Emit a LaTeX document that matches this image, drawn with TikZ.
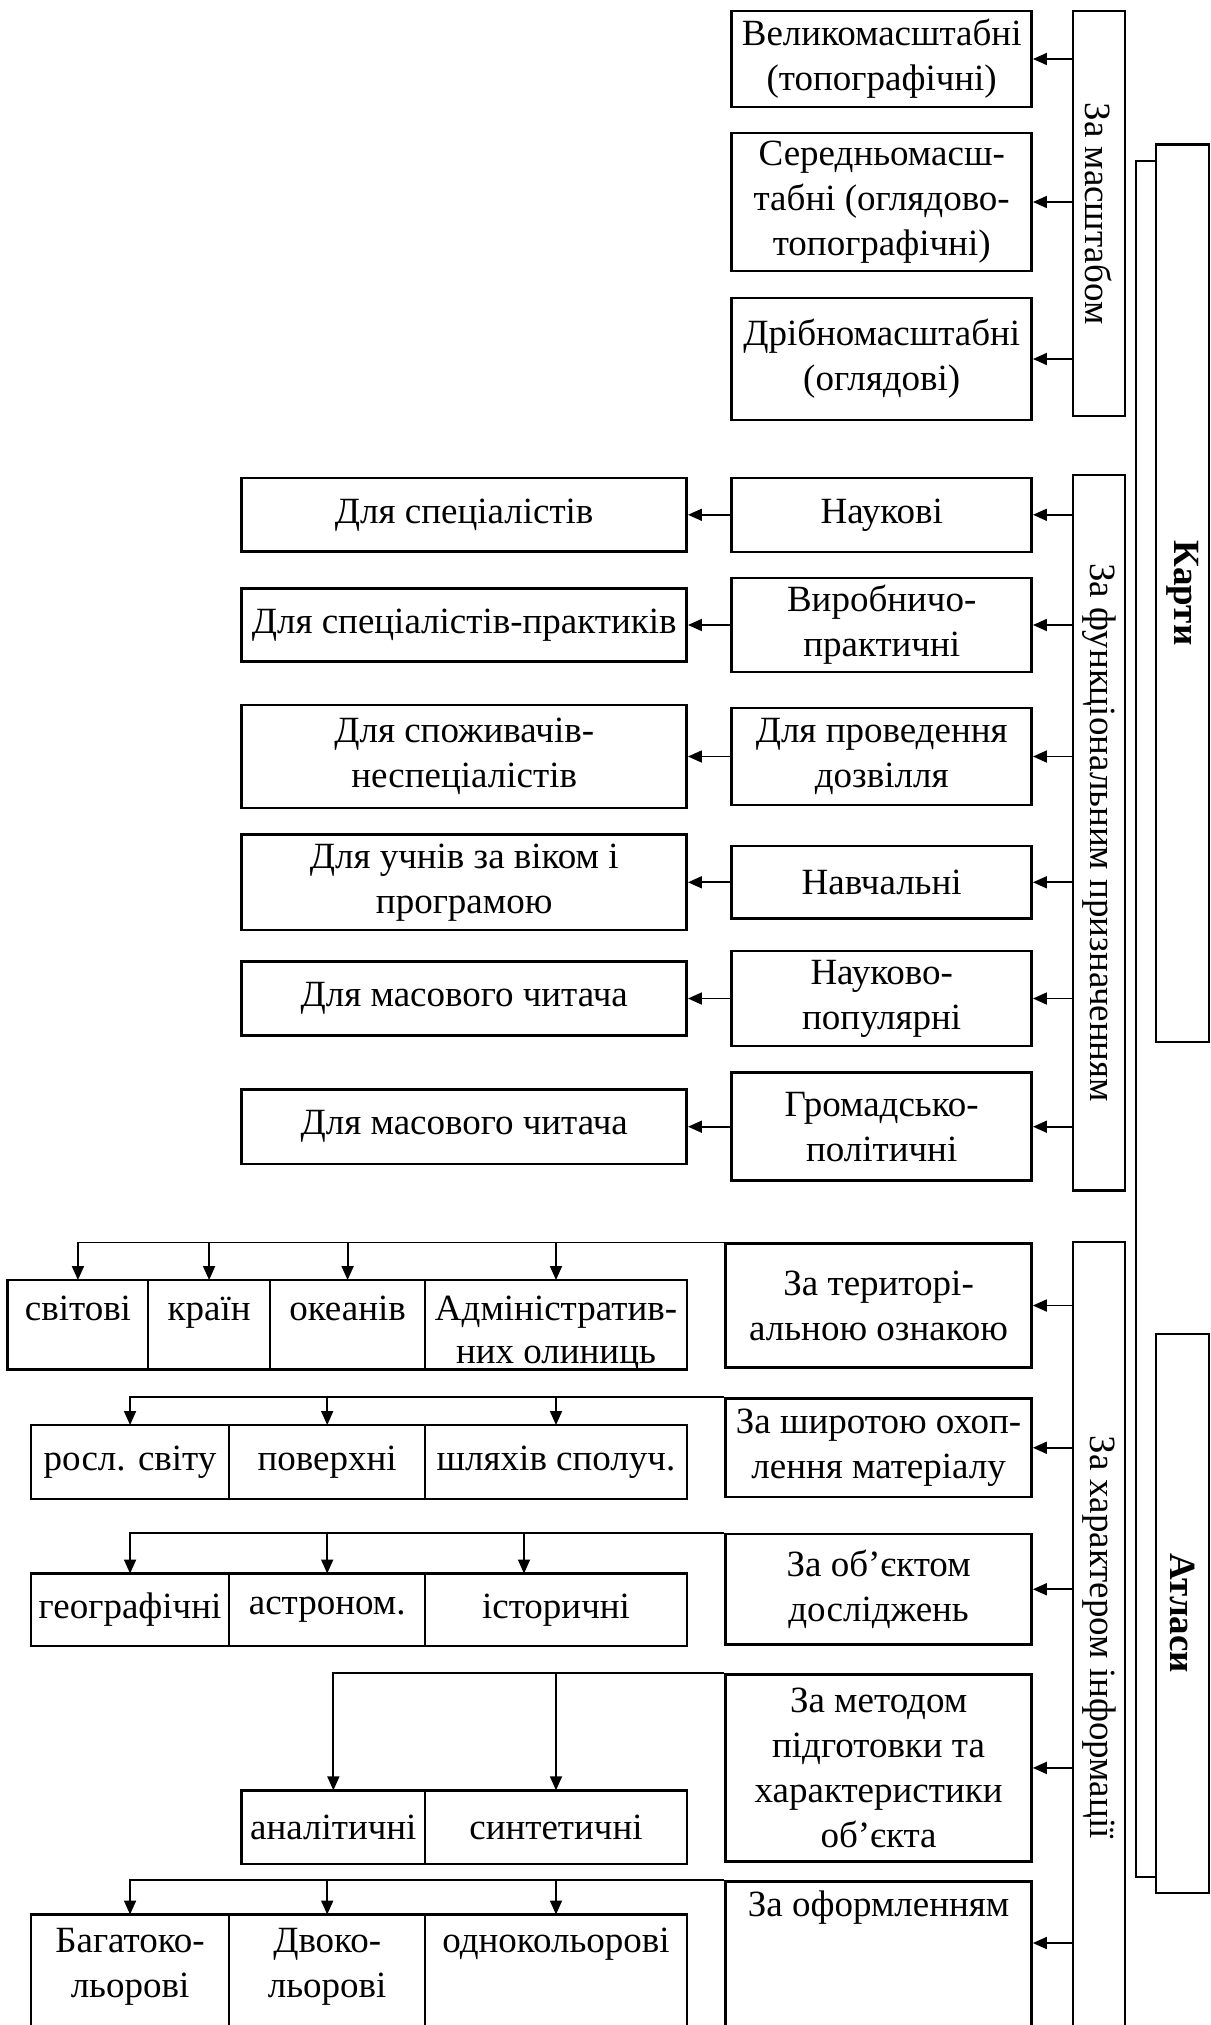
\documentclass[tikz,border=0pt]{standalone}
\usepackage{fontspec}
\setmainfont{Liberation Serif}
\usetikzlibrary{positioning,arrows.meta}
\begin{document}
\begin{tikzpicture}
[
x=1pt, y=-1pt,
every node/.style={font=\fontsize{37}{45}\selectfont},
kind/.style={draw=black, line width=2.5pt, align=center, minimum width=300pt, inner sep=2pt},
user/.style={draw=black, line width=2.5pt, align=center, minimum width=445pt, inner sep=2pt, node distance=417.5pt},
branch/.style={draw=black, line width=2.5pt, align=center, minimum width=306pt, inner sep=2pt},
axis/.style={draw=black, line width=2.5pt, rotate=-90, minimum height=52pt, inner sep=2pt},
root/.style={draw=black, line width=2.5pt, rotate=-90, minimum height=53pt, inner sep=2pt, font=\fontsize{37}{45}\selectfont\bfseries},
leaf/.style={draw=black, line width=2.5pt, align=center, outer sep=0pt, inner sep=2pt},
toprow/.style={text height=38pt, text depth=47.4pt},
lowrow/.style={text height=35.5pt, text depth=150pt},
arr/.style={-{Triangle[length=14pt,width=12pt]}, line width=1.8pt}
]
\useasboundingbox (0,0) rectangle (1210,2025);
\clip (0,0) rectangle (1210,2025);

%Nodes
\node[kind, minimum height=96pt]    (big)      at (881.7,59)     {Великомасштабні\\(топографічні)};
\node[kind, minimum height=138pt]   (medium)   at (881.7,202)    {Середньомасш-\\табні (оглядово-\\топографічні)};
\node[kind, minimum height=122pt]   (small)    at (881.7,359)    {Дрібномасштабні\\(оглядові)};
\node[axis, minimum width=405pt]    (scale)    at (1098.9,213.5) {За масштабом};

\node[kind, minimum height=74pt]    (sci)      at (881.7,514.8)  {Наукові};
\node[kind, minimum height=94pt]    (prod)     at (881.7,625)    {Виробничо-\\практичні};
\node[kind, minimum height=97pt]    (leis)     at (881.7,756.5)  {Для проведення\\дозвілля};
\node[kind, minimum height=72.5pt]  (edu)      at (881.7,882.3)  {Навчальні};
\node[kind, minimum height=95pt]    (pop)      at (881.7,998.5)  {Науково-\\популярні};
\node[kind, minimum height=108pt]   (soc)      at (881.7,1126.7) {Громадсько-\\політичні};
\node[user, minimum height=73.5pt]  (sci_user)  [left of=sci]    {Для спеціалістів};
\node[user, minimum height=72.6pt]  (prod_user) [left of=prod]   {Для спеціалістів-практиків};
\node[user, minimum height=103pt]   (leis_user) [left of=leis]   {Для споживачів-\\неспеціалістів};
\node[user, minimum height=95.7pt]  (edu_user)  [left of=edu]    {Для учнів за віком і\\програмою};
\node[user, minimum height=74pt]    (pop_user)  [left of=pop]    {Для масового читача};
\node[user, minimum height=74.5pt]  (soc_user)  [left of=soc]    {Для масового читача};
\node[axis, minimum width=715.6pt]  (func)     at (1098.9,832.8) {За функціональним призначенням};

\node[root, minimum width=897.7pt]  (maps)     at (1182.5,593.2)  {Карти};
\node[root, minimum width=559pt]    (atlas)    at (1182.5,1613.5) {Атласи};

\node[branch, minimum height=123.6pt] (terr)   at (878.6,1305.5)  {За територі-\\альною ознакою};
\node[branch, minimum height=98.9pt]  (wide)   at (878.6,1447.75) {За широтою охоп-\\лення матеріалу};
\node[branch, minimum height=110.5pt] (obj)    at (878.6,1589.25) {За об’єктом\\досліджень};
\node[branch, minimum height=186.8pt] (meth)   at (878.6,1767.9)  {За методом\\підготовки та\\характеристики\\об’єкта};
\node[branch, anchor=north, text height=33pt, text depth=200pt] (design) at (878.6,1880) {За оформленням};
\node[axis, minimum width=790pt]      (char)   at (1098.9,1637)   {За характером інформації};

\node[leaf, toprow, anchor=north west, minimum width=140.5pt] (world)   at (7.7,1280) {світові};
\node[leaf, toprow, right=0pt of world, minimum width=121.8pt] (country) {країн};
\node[leaf, toprow, right=0pt of country, minimum width=155.2pt] (ocean) {океанів};
\node[leaf, font=\fontsize{37}{43}\selectfont, text height=81pt, text depth=4.4pt, right=0pt of ocean, minimum width=261.6pt] (admin) {Адміністратив-\\них олиниць};

\node[leaf, anchor=north west, minimum width=198.3pt, minimum height=73.8pt] (plant) at (30.9,1425) {росл. світу};
\node[leaf, right=0pt of plant, minimum width=196pt, minimum height=73.8pt]   (surf)  {поверхні};
\node[leaf, right=0pt of surf, minimum width=261.6pt, minimum height=73.8pt]  (road)  {шляхів сполуч.};

\node[leaf, anchor=north west, minimum width=198.3pt, minimum height=72.5pt] (geo) at (30.9,1573.5) {географічні};
\node[leaf, right=0pt of geo, minimum width=196pt, minimum height=72.5pt]     (astro) {астроном.};
\node[leaf, right=0pt of astro, minimum width=261.6pt, minimum height=72.5pt] (hist)  {історичні};

\node[leaf, anchor=north west, minimum width=183.7pt, minimum height=73.7pt] (anal) at (241.5,1790.3) {аналітичні};
\node[leaf, right=0pt of anal, minimum width=261.6pt, minimum height=73.7pt]  (synt) {синтетичні};

\node[leaf, text height=80.5pt, text depth=105pt, anchor=north west, minimum width=198.3pt] (multi) at (30.9,1914.5) {Багатоко-\\льорові};
\node[leaf, text height=80.5pt, text depth=105pt, right=0pt of multi, minimum width=196pt] (dual) {Двоко-\\льорові};
\node[leaf, lowrow, right=0pt of dual, minimum width=261.6pt]  (mono)  {однокольорові};

\coordinate (hist_in)   at ([xshift=-32pt]hist.north);
\coordinate (design_in) at ([yshift=-63pt]design.north east);

%Lines
\path[arr]
(scale.south |- big)    edge (big.east)
(scale.south |- medium) edge (medium.east)
(scale.south |- small)  edge (small.east)
(func.south |- sci)     edge (sci.east)
(func.south |- prod)    edge (prod.east)
(func.south |- leis)    edge (leis.east)
(func.south |- edu)     edge (edu.east)
(func.south |- pop)     edge (pop.east)
(func.south |- soc)     edge (soc.east)
(sci.west)  edge (sci.west -| sci_user.east)
(prod.west) edge (prod.west -| prod_user.east)
(leis.west) edge (leis.west -| leis_user.east)
(edu.west)  edge (edu.west -| edu_user.east)
(pop.west)  edge (pop.west -| pop_user.east)
(soc.west)  edge (soc.west -| soc_user.east)
(char.south |- terr)      edge (terr.east)
(char.south |- wide)      edge (wide.east)
(char.south |- obj)       edge (obj.east)
(char.south |- meth)      edge (meth.east)
(char.south |- design_in) edge (design_in);

\draw[arr] (terr.north west) -| (world.north);
\draw[arr] (terr.north west -| country) -- (country.north);
\draw[arr] (terr.north west -| ocean) -- (ocean.north);
\draw[arr] (terr.north west -| admin) -- (admin.north);

\draw[arr] (wide.north west) -| (plant.north);
\draw[arr] (wide.north west -| surf) -- (surf.north);
\draw[arr] (wide.north west -| road) -- (road.north);

\draw[arr] (obj.north west) -| (geo.north);
\draw[arr] (obj.north west -| astro) -- (astro.north);
\draw[arr] (obj.north west -| hist_in) -- (hist_in);

\draw[arr] (meth.north west) -| (anal.north);
\draw[arr] (meth.north west -| synt) -- (synt.north);

\draw[arr] (design.north west) -| (multi.north);
\draw[arr] (design.north west -| dual) -- (dual.north);
\draw[arr] (design.north west -| mono) -- (mono.north);

\draw[line width=2pt] ([yshift=-18pt]maps.south west) -- ++(-19pt,0) |- ([yshift=17pt]atlas.south east);
\end{tikzpicture}
\end{document}
